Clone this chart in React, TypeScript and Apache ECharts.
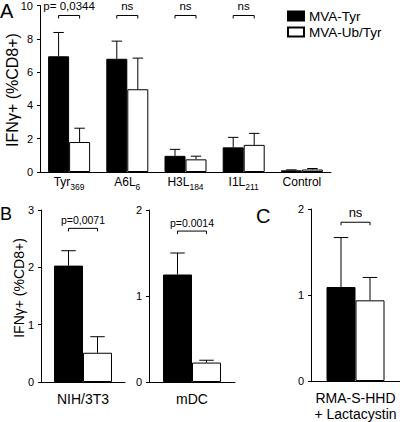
import React, { useEffect, useRef } from 'react';
import * as echarts from 'echarts';

const FONT = "'Liberation Sans', Arial, Helvetica, sans-serif";

const seriesNames = ['MVA-Tyr', 'MVA-Ub/Tyr'];

// Panel A
const catsA = ['Tyr', 'A6L', 'H3L', 'I1L', 'Control'];
const subsA = ['369', '6', '184', '211', ''];
const tyrA = [6.95, 6.8, 0.97, 1.48, 0.1];
const tyrErrA = [8.38, 7.86, 1.36, 2.08, 0.13];
const ubA = [1.8, 4.97, 0.76, 1.63, 0.15];
const ubErrA = [2.63, 6.84, 0.95, 2.32, 0.21];
const sigTextA = ['p= 0,0344', 'ns', 'ns', 'ns'];
const sigLevelA = [9.4, 9.4, 9.4, 9.4];
const ticksA = { min: 0, max: 10, interval: 2 };

// Panel B (left)
const catsB1 = ['NIH/3T3'];
const tyrB1 = [2.03];
const tyrErrB1 = [2.29];
const ubB1 = [0.51];
const ubErrB1 = [0.79];
const sigTextB1 = ['p=0,0071'];
const sigLevelB1 = [2.68];
const ticksB1 = { min: 0, max: 3, interval: 1 };

// Panel B (right)
const catsB2 = ['mDC'];
const tyrB2 = [1.25];
const tyrErrB2 = [1.5];
const ubB2 = [0.226];
const ubErrB2 = [0.253];
const sigTextB2 = ['p=0.0014'];
const sigLevelB2 = [1.755];
const ticksB2 = { min: 0, max: 2, interval: 1 };

// Panel C
const catsC = ['RMA-S-HHD\n+ Lactacystin'];
const tyrC = [1.093];
const tyrErrC = [1.668];
const ubC = [0.938];
const ubErrC = [1.204];
const sigTextC = ['ns'];
const sigLevelC = [1.846];
const ticksC = { min: 0, max: 2, interval: 1 };

const yTitle = 'IFNγ+ (%CD8+)';

export default function App() {
  const ref = useRef<HTMLDivElement>(null);
  useEffect(() => {
    if (!ref.current) return;
    const chart = echarts.init(ref.current, undefined, { renderer: 'svg' });

    const panels = [
      { cats: catsA, tyr: tyrA, tyrErr: tyrErrA, ub: ubA, ubErr: ubErrA, sig: sigTextA, sigLevel: sigLevelA, ticks: ticksA, barW: 21, sigSize: 11.5,
        grid: { left: 40, width: 291, top: 5, height: 167 } },
      { cats: catsB1, tyr: tyrB1, tyrErr: tyrErrB1, ub: ubB1, ubErr: ubErrB1, sig: sigTextB1, sigLevel: sigLevelB1, ticks: ticksB1, barW: 29, sigSize: 10.5,
        grid: { left: 41, width: 84, top: 210, height: 172 } },
      { cats: catsB2, tyr: tyrB2, tyrErr: tyrErrB2, ub: ubB2, ubErr: ubErrB2, sig: sigTextB2, sigLevel: sigLevelB2, ticks: ticksB2, barW: 29, sigSize: 10.5,
        grid: { left: 149, width: 86, top: 210, height: 172 } },
      { cats: catsC, tyr: tyrC, tyrErr: tyrErrC, ub: ubC, ubErr: ubErrC, sig: sigTextC, sigLevel: sigLevelC, ticks: ticksC, barW: 29, sigSize: 13,
        grid: { left: 311, width: 89, top: 209, height: 173 } },
    ];

    const grids: any[] = [];
    const xAxes: any[] = [];
    const yAxes: any[] = [];
    const series: any[] = [];

    panels.forEach((p, gi) => {
      grids.push({ ...p.grid, containLabel: false });
      xAxes.push({
        type: 'category',
        gridIndex: gi,
        data: p.cats,
        axisLine: { show: true, lineStyle: { color: '#000', width: 1 } },
        axisTick: { show: false },
        axisLabel: gi === 0
          ? {
              margin: 2,
              interval: 0,
              color: '#000',
              formatter: (v: string, i: number) => (subsA[i] ? `{b|${v}}{s|${subsA[i]}}` : `{b|${v}}`),
              rich: {
                b: { fontSize: 12, fontFamily: FONT, color: '#000', lineHeight: 16 },
                s: { fontSize: 8.5, fontFamily: FONT, color: '#000', lineHeight: 16, verticalAlign: 'top', padding: [8, 0, 0, 0] },
              },
            }
          : { margin: 9, interval: 0, color: '#000', fontSize: 14, fontFamily: FONT, lineHeight: 16 },
      });
      yAxes.push({
        type: 'value',
        gridIndex: gi,
        min: p.ticks.min,
        max: p.ticks.max,
        interval: p.ticks.interval,
        splitLine: { show: false },
        axisLine: { show: true, lineStyle: { color: '#000', width: 1 } },
        axisTick: { show: true, length: 3, lineStyle: { color: '#000' } },
        axisLabel: { color: '#000', fontSize: 11, fontFamily: FONT, margin: 7 },
      });

      const bw = p.barW;
      series.push({
        type: 'bar', name: seriesNames[0], xAxisIndex: gi, yAxisIndex: gi, data: p.tyr,
        barWidth: bw, barGap: '0%',
        itemStyle: { color: '#000', borderColor: '#000', borderWidth: 1 },
      });
      series.push({
        type: 'bar', name: seriesNames[1], xAxisIndex: gi, yAxisIndex: gi, data: p.ub,
        barWidth: bw, barGap: '0%',
        itemStyle: { color: '#fff', borderColor: '#000', borderWidth: 1 },
      });

      const errRender = (offset: number) => (params: any, api: any) => {
        const xi = api.value(0);
        const c = api.coord([xi, api.value(1)]);
        const t = api.coord([xi, api.value(2)]);
        const cx = c[0] + offset;
        const cap = bw / 4;
        return {
          type: 'group',
          children: [
            { type: 'line', shape: { x1: cx, y1: c[1], x2: cx, y2: t[1] }, style: { stroke: '#000', lineWidth: 1 } },
            { type: 'line', shape: { x1: cx - cap, y1: t[1], x2: cx + cap, y2: t[1] }, style: { stroke: '#000', lineWidth: 1 } },
          ],
        };
      };
      series.push({
        type: 'custom', xAxisIndex: gi, yAxisIndex: gi, z: 5,
        data: p.tyr.map((v, i) => [i, v, p.tyrErr[i]]),
        renderItem: errRender(-bw / 2),
      });
      series.push({
        type: 'custom', xAxisIndex: gi, yAxisIndex: gi, z: 5,
        data: p.ub.map((v, i) => [i, v, p.ubErr[i]]),
        renderItem: errRender(bw / 2),
      });

      const sigs = p.sig;
      const sz = p.sigSize;
      series.push({
        type: 'custom', xAxisIndex: gi, yAxisIndex: gi, z: 6, clip: false,
        data: p.sigLevel.map((v, i) => [i, v]),
        renderItem: (params: any, api: any) => {
          const xi = api.value(0);
          const c = api.coord([xi, api.value(1)]);
          const x1 = c[0] - bw / 2;
          const x2 = c[0] + bw / 2;
          const y = c[1];
          return {
            type: 'group',
            children: [
              { type: 'polyline', shape: { points: [[x1, y + 3], [x1, y], [x2, y], [x2, y + 3]] }, style: { stroke: '#000', lineWidth: 1, fill: 'none' } },
              { type: 'text', x: c[0], y: y - 3, style: { text: sigs[params.dataIndex], fontSize: sz, fontFamily: FONT, fill: '#000', align: 'center', verticalAlign: 'bottom' } },
            ],
          };
        },
      });
    });

    const option: any = {
      animation: false,
      backgroundColor: '#fff',
      grid: grids,
      xAxis: xAxes,
      yAxis: yAxes,
      series,
      legend: {
        data: seriesNames,
        orient: 'vertical',
        left: 287,
        top: 9,
        padding: 0,
        itemWidth: 16,
        itemHeight: 9,
        itemGap: 2,
        icon: 'rect',
        selectedMode: false,
        textStyle: { fontSize: 13.5, fontFamily: FONT, color: '#000', lineHeight: 14 },
      },
      graphic: [
        { type: 'text', left: 0, top: 1, style: { text: 'A', fontSize: 20, fontFamily: FONT, fill: '#000' } },
        { type: 'text', left: 0, top: 205, style: { text: 'B', fontSize: 18, fontFamily: FONT, fill: '#000' } },
        { type: 'text', left: 256, top: 206, style: { text: 'C', fontSize: 20, fontFamily: FONT, fill: '#000' } },
        { type: 'text', x: 12, y: 90, rotation: Math.PI / 2, style: { text: yTitle, fontSize: 16, fontFamily: FONT, fill: '#000', align: 'center', verticalAlign: 'middle' } },
        { type: 'text', x: 19, y: 288, rotation: Math.PI / 2, style: { text: yTitle, fontSize: 14, fontFamily: FONT, fill: '#000', align: 'center', verticalAlign: 'middle' } },
      ],
    };
    chart.setOption(option);
    return () => chart.dispose();
  }, []);
  return <div ref={ref} style={{ position: 'fixed', left: 0, top: 0, width: 400, height: 422, background: '#fff' }} />;
}
